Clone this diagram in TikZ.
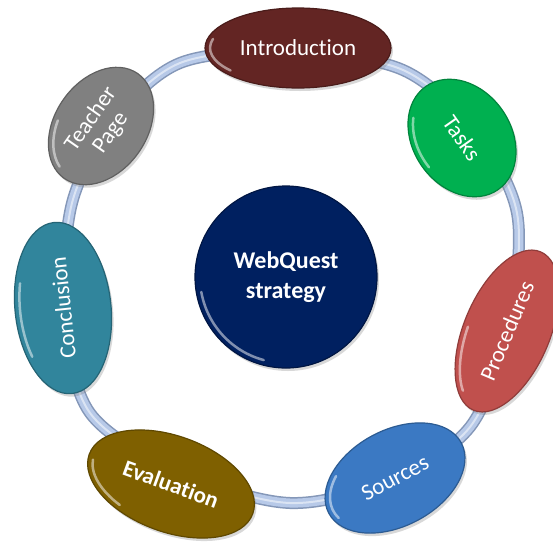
\documentclass[tikz,border=0pt]{standalone}
\usepackage{fontspec}
\setmainfont{Carlito}[Ligatures={NoCommon,NoContextual}]
\usetikzlibrary{shapes.geometric,shadows}
\definecolor{cIntro}{HTML}{632523}
\definecolor{cTasks}{HTML}{00B050}
\definecolor{cProc}{HTML}{C0504D}
\definecolor{cSrc}{HTML}{3B79C3}
\definecolor{cEval}{HTML}{7F6000}
\definecolor{cConc}{HTML}{31859C}
\definecolor{cTeach}{HTML}{808080}
\definecolor{cCenter}{HTML}{002060}
\definecolor{ringEdge}{HTML}{8497B8}
\definecolor{ringBody}{HTML}{B7C9E8}
\tikzset{
  bubble/.style={ellipse, inner sep=0pt, text=white, align=center,
    font=\fontsize{23}{26}\selectfont, fill=#1, draw=#1!75!black, line width=1.2pt,
    drop shadow={opacity=0.3, shadow xshift=2pt, shadow yshift=-3pt}},
  hilite/.style={white, opacity=0.5, line width=2.5pt, line cap=round},
}
\newcommand\glossarc[4]{% node, rotation, a, b
  \pgfmathsetmacro\gRa{#3-5}%
  \pgfmathsetmacro\gRb{#4-5}%
  \pgfmathsetmacro\gS{165-#2}%
  \pgfmathsetmacro\gE{220-#2}%
  \begin{scope}[shift={(#1.center)}, rotate=#2]
    \draw[hilite] ([shift={(\gS:\gRa pt and \gRb pt)}]0,0)
      arc[start angle=\gS, end angle=\gE, x radius=\gRa pt, y radius=\gRb pt];
  \end{scope}}
\begin{document}
\begin{tikzpicture}[x=1pt,y=-1pt]
\useasboundingbox (0,0) rectangle (553,541);
\fill[white] (0,0) rectangle (553,541);
% ring
\draw[ringEdge, line width=12pt] plot[smooth cycle] coordinates {(180,63) (403,70) (517,213) (470,427) (290,503) (90,413) (72,203)};
\draw[ringBody, line width=9pt] plot[smooth cycle] coordinates {(180,63) (403,70) (517,213) (470,427) (290,503) (90,413) (72,203)};
\draw[white, opacity=0.5, line width=2pt] plot[smooth cycle] coordinates {(180,63) (403,70) (517,213) (470,427) (290,503) (90,413) (72,203)};
% centre
\node[circle, minimum size=182pt, inner sep=0pt, fill=cCenter, draw=cCenter!70!black, line width=1.2pt,
  drop shadow={opacity=0.3, shadow xshift=2pt, shadow yshift=-3pt},
  text=white, align=center, font=\fontsize{24}{30}\selectfont\bfseries] (center) at (286,277) {WebQuest\\strategy};
\draw[hilite] ([shift={(190:86pt)}]center.center) arc[start angle=190, end angle=255, radius=86pt];
% bubbles
\node[bubble=cIntro, minimum width=186pt, minimum height=80pt] (intro) at (298,48) {Introduction};
\glossarc{intro}{0}{93}{40}
\node[bubble=cTasks, minimum width=126pt, minimum height=98pt, rotate=-55] (tasks) at (462,138) {Tasks};
\glossarc{tasks}{-55}{63}{49}
\node[bubble=cProc, minimum width=172pt, minimum height=86pt, rotate=67] (proc) at (507,331) {Procedures};
\glossarc{proc}{67}{86}{43}
\node[bubble=cSrc, minimum width=150pt, minimum height=96pt, rotate=28] (src) at (395,478) {Sources};
\glossarc{src}{28}{75}{48}
\node[bubble=cEval, minimum width=174pt, minimum height=96pt, rotate=-20, font=\fontsize{23}{26}\selectfont\bfseries] (eval) at (171,484) {Evaluation};
\glossarc{eval}{-20}{87}{48}
\node[bubble=cConc, minimum width=172pt, minimum height=96pt, rotate=96] (conc) at (63,308) {Conclusion};
\glossarc{conc}{96}{86}{48}
\node[bubble=cTeach, minimum width=128pt, minimum height=92pt, rotate=55, font=\fontsize{23}{24}\selectfont] (teach) at (101,126) {Teacher\\Page};
\glossarc{teach}{55}{64}{46}
\end{tikzpicture}
\end{document}
